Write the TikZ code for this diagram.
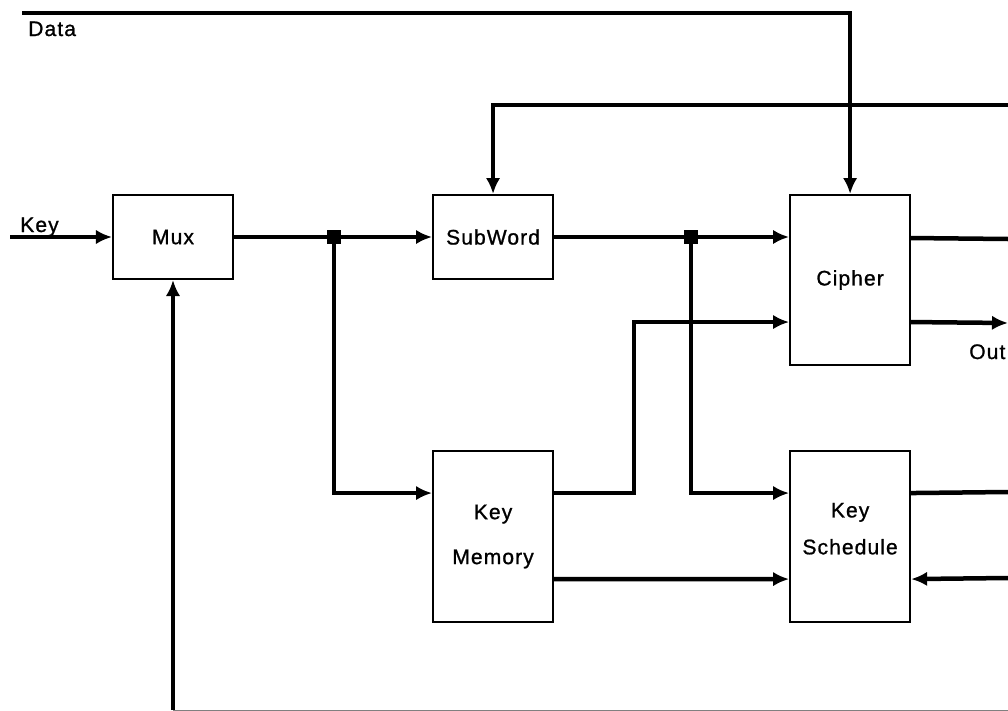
\documentclass[tikz,border=0pt]{standalone}
\usepackage{fontspec}
\newfontfamily\blkfont[LetterSpace=5,FakeBold=1]{Liberation Sans}
\usepackage{tikz}
\usetikzlibrary{arrows.meta,positioning}

\begin{document}
\begin{tikzpicture}[x=0.025cm,y=-0.025cm,>={Latex[length=0.4cm,width=0.36cm]},line width=3.2pt,font=\blkfont\fontsize{15}{18}\selectfont]
\tikzstyle{blk}=[rectangle,draw=black,line width=1.4pt,align=center,minimum width=3cm,inner sep=0pt]
\tikzstyle{lbl}=[inner sep=0pt]
\tikzstyle{dot}=[rectangle,fill=black,minimum size=0.33cm,inner sep=0pt]
\useasboundingbox (0,0) rectangle (1008,711);
\node[blk,minimum height=2.1cm] (mux) at (173,237) {Mux};
\node[blk,minimum height=2.1cm,right=4.95cm of mux] (sw) {SubWord};
\node[blk,minimum height=4.25cm,below right=0cm and 5.875cm of sw.north east] (ciph) {Cipher};
\node[blk,minimum height=4.275cm,below=4.25cm of sw] (kmem) {Key\\[0.49cm]Memory};
\node[blk,minimum height=4.275cm,below=2.1cm of ciph] (ksch) {Key\\[0.29cm]Schedule\\[-0.235cm]\mbox{}};
\node[dot] (j1) at (334,237) {};
\node[dot] (j2) at (691,237) {};
\coordinate (keyin) at (10,237);
\coordinate (datain) at (22,13);
\coordinate (fbtop) at (1008,105);
\coordinate (fbbot) at (173,710);
\coordinate (botr) at (1008,710);
\coordinate (cphr) at (1008,239);
\coordinate (outr) at (1008,323);
\coordinate (kschr) at (1008,492);
\coordinate (kschin) at (1008,578);
\draw[->] (keyin)--(mux);
\draw[->] (datain) -| (ciph.north);
\draw[->] (fbtop) -| (sw.north);
\draw (mux)--(j1.center);\draw[->] (j1.center)--(sw);
\draw (sw)--(j2.center);\draw[->] (j2.center)--(j2 -| ciph.west);
\draw[->] (j1.center) |- ([yshift=-1.075cm]kmem.north west);
\draw[->] (j2.center) |- ([yshift=-1.075cm]ksch.north west);
\draw[->] ([yshift=-1.075cm]kmem.north east) -- ++(2cm,0) |- ([yshift=-3.2cm]ciph.north west);
\draw[->] ([yshift=-3.225cm]kmem.north east)--([yshift=-3.225cm]ksch.north west);
\draw ([yshift=-1.1cm]ciph.north east)--(cphr);
\draw[->] ([yshift=-3.2cm]ciph.north east)--(outr);
\draw ([yshift=-1.075cm]ksch.north east)--(kschr);
\draw[->] (kschin)--([yshift=-3.225cm]ksch.north east);
\draw[->] (fbbot)--(mux.south);
\draw[gray,line width=0.6pt] (fbbot)--(botr);
\node[lbl,anchor=base west] (keylbl) at (18,232) {Key};
\node[lbl,anchor=base west] (datalbl) at (26,36) {Data};
\node[lbl,anchor=base west] (outlbl) at (967,359) {Out};
\end{tikzpicture}
\end{document}
